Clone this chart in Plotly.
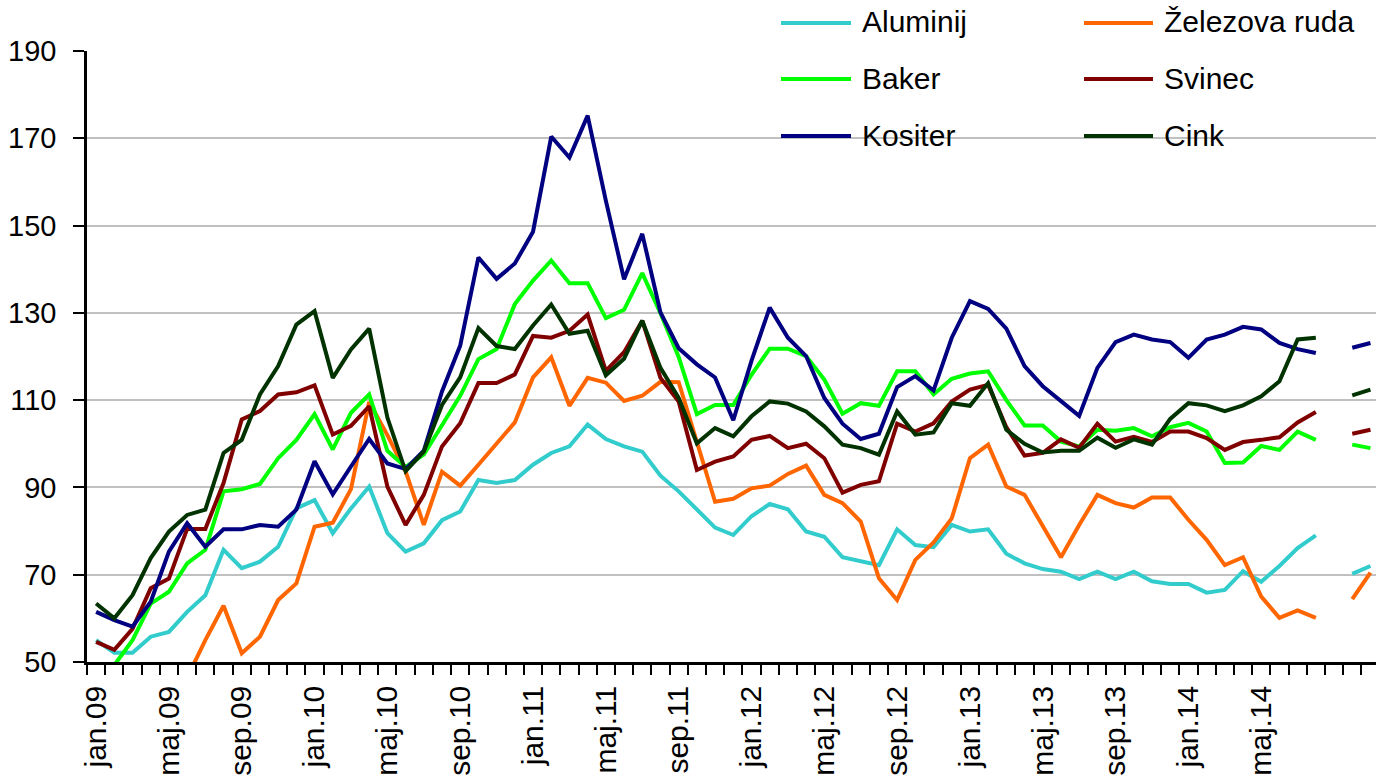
import plotly.graph_objects as go

# ---- data (index 0 = jan.09, monthly; index 68 = gap before forecast) ----
tick_labels = ["jan.09", "maj.09", "sep.09", "jan.10", "maj.10", "sep.10",
               "jan.11", "maj.11", "sep.11", "jan.12", "maj.12", "sep.12",
               "jan.13", "maj.13", "sep.13", "jan.14", "maj.14"]
tick_positions = [0, 4, 8, 12, 16, 20, 24, 28, 32, 36, 40, 44, 48, 52, 56, 60, 64]
months_idx = list(range(71))

aluminij = [55.0, 52.1, 52.1, 55.8, 56.9, 61.5, 65.3, 75.7, 71.5, 73.0, 76.4, 85.2,
            87.1, 79.5, 85.2, 90.2, 79.5, 75.3, 77.2, 82.5, 84.5, 91.7, 91.0, 91.7,
            95.2, 97.9, 99.4, 104.4, 101.1, 99.4, 98.2, 92.7, 89.1, 84.9, 80.8, 79.1,
            83.4, 86.2, 85.0, 79.9, 78.7, 74.0, 73.2, 72.2, 80.4, 76.8, 76.3, 81.4,
            79.9, 80.4, 74.8, 72.6, 71.3, 70.7, 69.0, 70.7, 69.0, 70.7, 68.5, 67.9,
            67.9, 65.9, 66.5, 70.8, 68.4, 72.0, 76.1, 79.0, None, 70.2, 72.0]

zelezova_ruda = [45.0, 44.0, 43.0, 43.0, 44.0, 46.4, 55.0, 62.9, 52.0, 55.8, 64.2, 68.0,
                 81.0, 81.9, 89.6, 109.6, 102.0, 93.7, 81.4, 93.6, 90.4, 95.2, 100.0, 104.9,
                 115.2, 119.8, 108.7, 115.1, 114.0, 109.8, 111.0, 114.2, 114.1, 100.4, 86.7, 87.4,
                 89.8, 90.4, 93.1, 95.0, 88.3, 86.4, 82.2, 69.2, 64.2, 73.4, 77.4, 82.9,
                 96.7, 99.8, 90.2, 88.3, 81.0, 74.0, 81.4, 88.3, 86.4, 85.4, 87.7, 87.7,
                 82.6, 78.0, 72.2, 74.0, 65.0, 60.1, 61.8, 60.1, None, 64.4, 70.5]

baker = [46.0, 49.3, 55.0, 63.4, 66.1, 72.6, 75.7, 89.1, 89.6, 90.8, 96.7, 100.9,
         106.8, 98.7, 107.1, 111.3, 98.4, 94.7, 97.5, 104.4, 111.0, 119.4, 121.7, 132.0,
         137.4, 142.0, 136.8, 136.8, 128.8, 130.7, 139.1, 129.9, 119.9, 106.8, 108.9, 108.9,
         115.8, 121.8, 121.8, 120.1, 114.7, 106.9, 109.3, 108.7, 116.6, 116.6, 111.3, 114.9,
         116.1, 116.6, 110.0, 104.2, 104.2, 100.5, 99.4, 103.2, 103.0, 103.6, 101.7, 103.8,
         104.8, 102.8, 95.6, 95.7, 99.5, 98.6, 102.8, 100.9, None, 99.8, 99.0]

svinec = [54.6, 52.8, 57.6, 66.9, 69.1, 80.5, 80.5, 91.0, 105.6, 107.5, 111.3, 111.8,
          113.4, 102.1, 104.1, 108.6, 90.2, 81.4, 88.3, 99.4, 104.7, 113.9, 113.9, 115.9,
          124.7, 124.3, 125.9, 129.6, 116.7, 121.0, 128.2, 115.1, 109.7, 94.0, 95.9, 97.1,
          100.9, 101.8, 99.0, 100.0, 96.7, 88.8, 90.6, 91.4, 104.6, 102.8, 104.7, 109.7,
          112.4, 113.5, 103.8, 97.3, 97.9, 101.0, 99.1, 104.6, 100.5, 101.6, 100.4, 102.8,
          102.8, 101.3, 98.6, 100.4, 100.9, 101.5, 104.9, 107.3, None, 102.3, 103.2]

kositer = [61.5, 59.6, 58.1, 63.8, 75.3, 81.8, 76.4, 80.4, 80.4, 81.4, 81.0, 84.9,
           96.0, 88.4, 94.8, 101.1, 95.5, 94.2, 98.4, 112.0, 122.5, 142.7, 137.8, 141.3,
           148.6, 170.4, 165.6, 175.2, 155.7, 137.7, 148.1, 130.1, 121.9, 118.2, 115.2, 105.4,
           119.0, 131.2, 124.3, 120.1, 110.5, 104.6, 101.1, 102.3, 113.0, 115.5, 112.2, 124.3,
           132.7, 130.9, 126.4, 117.8, 113.2, 109.7, 106.4, 117.4, 123.3, 125.0, 123.9, 123.3,
           119.7, 123.9, 125.0, 126.8, 126.2, 123.1, 121.7, 120.8, None, 122.0, 123.1]

cink = [63.4, 60.0, 65.3, 73.8, 79.9, 83.7, 84.9, 97.9, 100.9, 111.3, 117.8, 127.3,
        130.4, 115.1, 121.6, 126.4, 106.0, 93.7, 98.2, 108.9, 115.2, 126.5, 122.4, 121.7,
        127.1, 131.9, 125.2, 125.9, 115.7, 119.5, 128.2, 117.4, 110.5, 100.1, 103.6, 101.7,
        106.3, 109.7, 109.2, 107.4, 104.0, 99.8, 99.0, 97.5, 107.4, 102.1, 102.6, 109.3,
        108.7, 113.9, 103.2, 100.0, 98.0, 98.4, 98.4, 101.4, 99.1, 101.0, 99.8, 105.7,
        109.3, 108.8, 107.5, 108.8, 110.9, 114.3, 123.9, 124.3, None, 111.1, 112.4]

series = [
    ("Aluminij", aluminij, "#33CCCC"),
    ("Železova ruda", zelezova_ruda, "#FF6600"),
    ("Baker", baker, "#00FF00"),
    ("Svinec", svinec, "#800000"),
    ("Kositer", kositer, "#000080"),
    ("Cink", cink, "#003300"),
]

FONT = "Liberation Sans, Arial, sans-serif"
W, H = 1376, 777
ML, MR, MT, MB = 87, 0, 51, 115
PW, PH = W - ML - MR, H - MT - MB


def px(x):
    return (x - ML) / PW


def py(y):
    return (H - MB - y) / PH


fig = go.Figure()
for name, vals, col in series:
    fig.add_trace(go.Scatter(
        x=months_idx, y=vals, name=name, mode="lines",
        line=dict(color=col, width=4), connectgaps=False, showlegend=False,
    ))

# legend box (white, hides gridlines) and manual two-column legend
shapes = [dict(type="rect", xref="paper", yref="paper", layer="between",
               x0=px(756), x1=px(1363), y0=py(168), y1=py(0),
               fillcolor="white", line=dict(width=0))]
annotations = []
legend_cols = [(781, 851, 860), (1084, 1153, 1162)]
legend_rows = [23, 79, 136]
for k, (name, vals, col) in enumerate(series):
    c0, c1, tx = legend_cols[k % 2]
    yy = legend_rows[k // 2]
    shapes.append(dict(type="line", xref="paper", yref="paper", layer="above",
                       x0=px(c0), x1=px(c1), y0=py(yy), y1=py(yy),
                       line=dict(color=col, width=4)))
    annotations.append(dict(xref="paper", yref="paper", x=px(tx), y=py(yy - 1),
                            xanchor="left", yanchor="middle", showarrow=False,
                            text=name, font=dict(family=FONT, size=30, color="black")))

fig.update_layout(
    width=W, height=H,
    margin=dict(l=ML, r=MR, t=MT, b=MB, pad=0),
    paper_bgcolor="white", plot_bgcolor="white",
    template="none",
    showlegend=False,
    shapes=shapes, annotations=annotations,
    font=dict(family=FONT, color="black"),
)
fig.update_xaxes(
    range=[-0.5, -0.5 + PW / 18.205], automargin=False,
    tickmode="array", tickvals=tick_positions, ticktext=tick_labels,
    tickangle=-90, tickfont=dict(family=FONT, size=30, color="black"),
    ticks="", ticklabelstandoff=9,
    showgrid=False, zeroline=False,
    showline=True, linecolor="black", linewidth=2.5,
    minor=dict(tickmode="linear", tick0=-0.5, dtick=1, ticks="outside",
               ticklen=10, tickwidth=2, tickcolor="black", showgrid=False),
)
fig.update_yaxes(
    range=[50, 190], automargin=False,
    tickmode="linear", tick0=50, dtick=20,
    tickfont=dict(family=FONT, size=29, color="black"),
    ticks="outside", ticklen=11, tickwidth=2, tickcolor="black",
    ticklabelstandoff=11,
    showgrid=True, gridcolor="#C0C0C0", gridwidth=2,
    zeroline=False, showline=True, linecolor="black", linewidth=2.5,
)

fig.write_html(
    "out.html",
    config={"displayModeBar": False},
    post_script="document.body.style.margin='0';document.body.style.overflow='hidden';",
)
